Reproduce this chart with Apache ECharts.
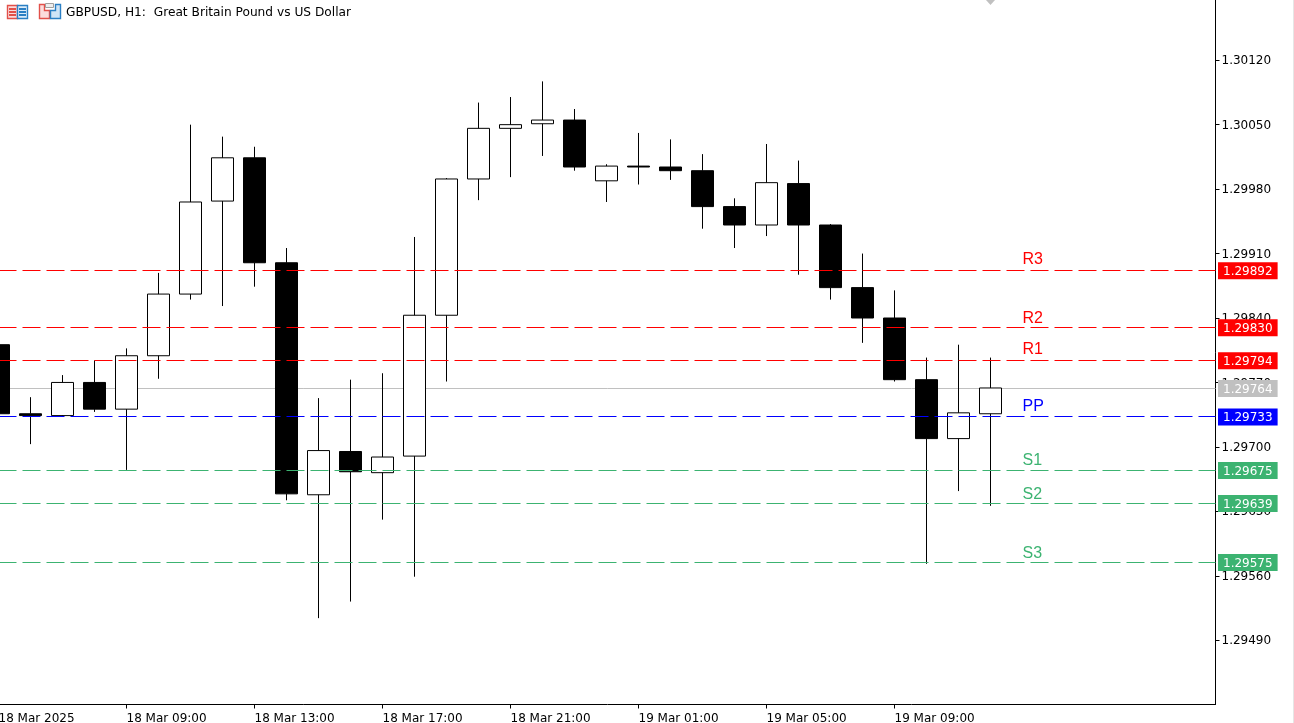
<!DOCTYPE html>
<html><head><meta charset="utf-8">
<style>html,body{margin:0;padding:0;background:#fff;overflow:hidden}#c{width:1294px;height:723px}</style>
<script src="https://cdn.jsdelivr.net/npm/echarts@6/dist/echarts.min.js"></script>
</head><body><div id="c"></div>
<script>
const opens=[1.29811,1.29736,1.29734,1.29770,1.29741,1.29799,1.29866,1.29967,1.30014,1.29900,1.29648,1.29695,1.29672,1.29690,1.29843,1.29991,1.30046,1.30051,1.30055,1.29989,1.30005,1.30004,1.30000,1.29961,1.29941,1.29986,1.29941,1.29873,1.29840,1.29773,1.29709,1.29736];
const closes=[1.29736,1.29734,1.29770,1.29741,1.29799,1.29866,1.29966,1.30014,1.29900,1.29649,1.29696,1.29673,1.29689,1.29843,1.29991,1.30046,1.30050,1.30055,1.30004,1.30005,1.30004,1.30000,1.29961,1.29941,1.29987,1.29941,1.29873,1.29840,1.29773,1.29709,1.29737,1.29764];
const highs=[1.29811,1.29754,1.29778,1.29794,1.29807,1.29889,1.30050,1.30037,1.30026,1.29916,1.29753,1.29773,1.29780,1.29928,1.29992,1.30074,1.30080,1.30097,1.30067,1.30007,1.30041,1.30034,1.30018,1.29970,1.30029,1.30011,1.29942,1.29910,1.29870,1.29797,1.29811,1.29797];
const lows=[1.29735,1.29703,1.29733,1.29738,1.29675,1.29774,1.29860,1.29853,1.29874,1.29642,1.29514,1.29532,1.29621,1.29559,1.29771,1.29968,1.29993,1.30016,1.30000,1.29966,1.29985,1.29990,1.29937,1.29916,1.29929,1.29887,1.29860,1.29813,1.29771,1.29573,1.29652,1.29636];
const levelNames=['R3','R2','R1','PP','S1','S2','S3'];
const levelValues=[1.29892,1.29830,1.29794,1.29733,1.29675,1.29639,1.29575];
const levelColors=['#ff0000','#ff0000','#ff0000','#0000ff','#3cb371','#3cb371','#3cb371'];
const labelGaps=[3,1,3,2,1.5,0.5,0.5];
const lastPrice=1.29764;
const yTicks=[1.30120,1.30050,1.29980,1.29910,1.29840,1.29770,1.29700,1.29630,1.29560,1.29490];
const xTickIndex=[0,4,8,12,16,20,24,28];
const xTickLabels=['18 Mar 2025','18 Mar 09:00','18 Mar 13:00','18 Mar 17:00','18 Mar 21:00','19 Mar 01:00','19 Mar 05:00','19 Mar 09:00'];
const levelLabelIndex=32;
const titleText='GBPUSD, H1:  Great Britain Pound vs US Dollar';

const font='"DejaVu Sans"';
const tag=(bg)=>({show:true,position:'end',distance:2.5,offset:[0,-8],formatter:p=>p.value.toFixed(5),color:'#fff',backgroundColor:bg,
  fontFamily:font,fontSize:12,lineHeight:13,padding:[3,5,1,5],align:'left',verticalAlign:'top'});

const chart=echarts.init(document.getElementById('c'),null,{renderer:'canvas',width:1294,height:723});
chart.setOption({
  animation:false,
  backgroundColor:'#fff',
  title:{text:titleText,left:66,top:7,padding:0,textStyle:{fontFamily:font,fontSize:12.2,fontWeight:'normal',color:'#000'}},
  grid:{left:-1.5,right:78.5,top:0,bottom:18.5,containLabel:false,outerBoundsMode:'none'},
  xAxis:{type:'value',min:0,max:38.03,splitLine:{show:false},
    axisLine:{show:true,onZero:false,lineStyle:{color:'#000',width:1}},
    axisTick:{show:true,length:4,inside:false,customValues:xTickIndex,lineStyle:{color:'#000',width:1}},
    axisLabel:{show:true,customValues:xTickIndex,margin:8,align:'left',color:'#000',fontFamily:font,fontSize:12,
      formatter:v=>xTickLabels[xTickIndex.indexOf(v)]||''}},
  yAxis:{type:'value',position:'right',scale:true,min:1.294202,max:1.301854,splitLine:{show:false},
    axisLine:{show:true,onZero:false,lineStyle:{color:'#000',width:1}},
    axisTick:{show:true,length:4,customValues:yTicks,lineStyle:{color:'#000',width:1}},
    axisLabel:{show:true,customValues:yTicks,margin:6,verticalAlign:'top',lineHeight:2,color:'#000',fontFamily:font,fontSize:12,
      formatter:v=>v.toFixed(5)}},
  series:[
    {type:'candlestick',barWidth:22,z:2,
     itemStyle:{color:'#fff',color0:'#000',borderColor:'#000',borderColor0:'#000',borderColorDoji:'#000',borderWidth:1},
     data:opens.map((o,i)=>[i,o,closes[i],lows[i],highs[i]]),
     markLine:{silent:true,symbol:'none',animation:false,z:5,precision:5,
       data:levelValues.map((v,i)=>({yAxis:v,lineStyle:{color:levelColors[i],width:1,type:[18,6]},label:tag(levelColors[i])}))}},
    {type:'line',data:[],z:1,silent:true,
     markLine:{silent:true,symbol:'none',animation:false,z:1,precision:5,
       data:[{yAxis:lastPrice,lineStyle:{color:'#c0c0c0',width:1,type:'solid'},label:tag('#c0c0c0')}]}},
    {type:'scatter',symbolSize:0,z:6,silent:true,itemStyle:{opacity:1},
     data:levelValues.map((v,i)=>({value:[levelLabelIndex,v],label:{show:true,position:'top',distance:labelGaps[i],align:'left',opacity:1,
        formatter:levelNames[i],color:levelColors[i],fontFamily:'"Liberation Sans"',fontSize:16}}))}
  ],
  graphic:[
    {type:'rect',shape:{x:1293,y:0,width:1,height:723},style:{fill:'#e6e6e6'},silent:true},
    {type:'polygon',shape:{points:[[986,0],[995,0],[990.5,5]]},style:{fill:'#c0c0c0'},silent:true},
    {type:'rect',shape:{x:7.5,y:5.5,width:10,height:13},style:{fill:'#fbdcdc',stroke:'#e2504a',lineWidth:1.4},silent:true},
    {type:'rect',shape:{x:17.5,y:5.5,width:10,height:13},style:{fill:'#dcecf9',stroke:'#2a7fc4',lineWidth:1.4},silent:true},
    {type:'rect',shape:{x:9,y:8,width:7,height:2},style:{fill:'#e2504a'},silent:true},
    {type:'rect',shape:{x:9,y:11,width:7,height:2},style:{fill:'#e2504a'},silent:true},
    {type:'rect',shape:{x:9,y:14,width:7,height:2},style:{fill:'#e2504a'},silent:true},
    {type:'rect',shape:{x:19,y:8,width:7,height:2},style:{fill:'#2a7fc4'},silent:true},
    {type:'rect',shape:{x:19,y:11,width:7,height:2},style:{fill:'#2a7fc4'},silent:true},
    {type:'rect',shape:{x:19,y:14,width:7,height:2},style:{fill:'#2a7fc4'},silent:true},
    {type:'polygon',shape:{points:[[39.5,4.5],[44.5,4.5],[44.5,10.5],[49.5,10.5],[49.5,18.5],[39.5,18.5]]},style:{fill:'#fbdcdc',stroke:'#e2504a',lineWidth:1.4},silent:true},
    {type:'polygon',shape:{points:[[55.5,4.5],[60.5,4.5],[60.5,18.5],[50.5,18.5],[50.5,10.5],[55.5,10.5]]},style:{fill:'#cfe4f6',stroke:'#2a7fc4',lineWidth:1.4},silent:true},
    {type:'rect',shape:{x:45.5,y:3.5,width:8,height:4},style:{fill:'#eee',stroke:'#a0a0a0',lineWidth:1},silent:true}
  ]
});
</script></body></html>
